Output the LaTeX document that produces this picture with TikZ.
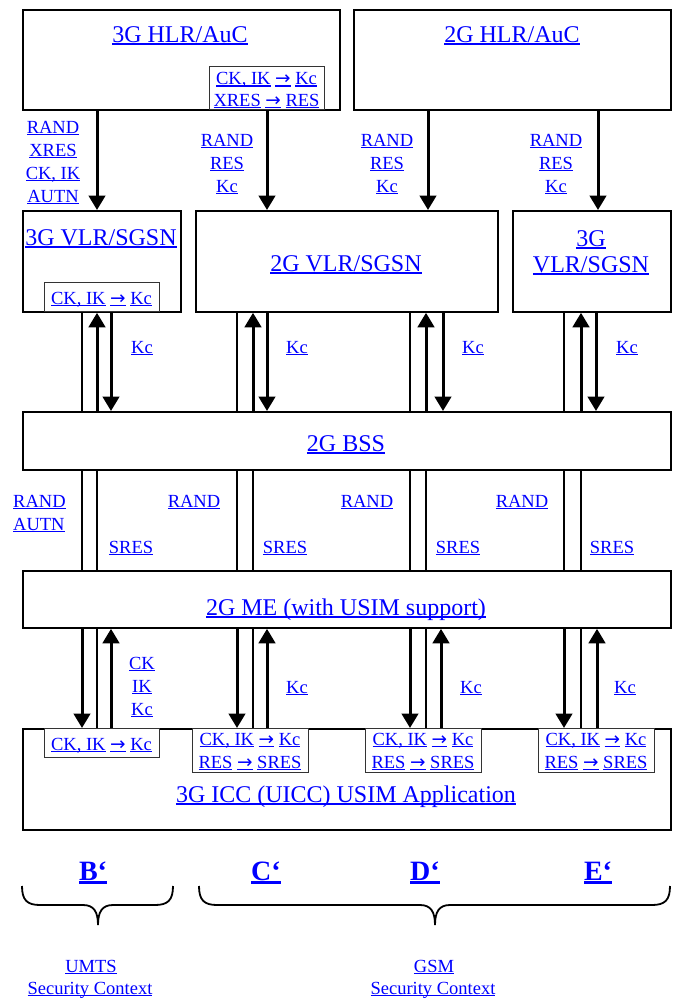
\documentclass[tikz,border=0pt]{standalone}
\usepackage{fontspec}
\setmainfont{Liberation Serif}
\newfontfamily\arrowfont{DejaVu Sans}
\usetikzlibrary{arrows.meta}
\newsavebox\lnkbox
\newcommand\lnk[1]{\begingroup\sbox\lnkbox{#1}\rlap{\rule[-0.11em]{\wd\lnkbox}{0.07em}}\usebox\lnkbox\endgroup}
\newcommand\lnkb[1]{\begingroup\sbox\lnkbox{#1}\rlap{\rule[-0.16em]{\wd\lnkbox}{0.11em}}\usebox\lnkbox\endgroup}
\newcommand\ar{\lnk{\arrowfont →}}
\tikzset{
  box/.style={draw=black, line width=1.8pt, inner sep=0pt, anchor=north west},
  ibox/.style={draw=black!80, line width=1.3pt, fill=white, inner sep=0pt, anchor=north west},
  big/.style={text=blue, font=\fontsize{24}{28}\selectfont, anchor=base, inner sep=0pt},
  sm/.style={text=blue, font=\fontsize{18.5}{23}\selectfont, anchor=base, inner sep=0pt},
  bl/.style={text=blue, font=\fontsize{28}{32}\selectfont\bfseries, anchor=base, inner sep=0pt},
  arr/.style={line width=3pt, -{Triangle[width=16.5pt,length=14.5pt]}},
  pl/.style={line width=2.5pt},
  brace/.style={line width=1.8pt}
}
\begin{document}
\begin{tikzpicture}[x=1pt,y=-1pt]
\useasboundingbox (0,0) rectangle (676,999);
% x positions
\foreach \n/\v in {a1/82,b1/97,c1/111,a2/237,b2/253,c2/267,a3/410,b3/426,c3/443,d3/441,a4/564,b4/581,c4/596,d4/597,h1/97,h2/267,h3/428,h4/598}
  \coordinate (x\n) at (\v,0);
% boxes
\node[box, minimum width=317pt, minimum height=100pt] (hlr3) at (22,9) {};
\node[box, minimum width=317pt, minimum height=100pt] (hlr2) at (353,9) {};
\node[ibox, minimum width=115pt, minimum height=43pt] (hlr3in) at (209,66) {};
\node[box, minimum width=158pt, minimum height=101pt] (vlr3a) at (22,210) {};
\node[box, minimum width=302pt, minimum height=101pt] (vlr2) at (195,210) {};
\node[box, minimum width=158pt, minimum height=101pt] (vlr3b) at (512,210) {};
\node[ibox, minimum width=115pt, minimum height=29pt] (vlrin) at (44,282) {};
\node[box, minimum width=648pt, minimum height=58pt] (bss) at (22,411) {};
\node[box, minimum width=648pt, minimum height=57pt] (me) at (22,570) {};
\node[box, minimum width=648pt, minimum height=101pt] (icc) at (22,728) {};
\node[ibox, minimum width=115pt, minimum height=29pt] (iccB) at (44,728) {};
\node[ibox, minimum width=116pt, minimum height=44pt] (iccC) at (192,728) {};
\node[ibox, minimum width=116pt, minimum height=44pt] (iccD) at (365,728) {};
\node[ibox, minimum width=116pt, minimum height=44pt] (iccE) at (538,728) {};
% HLR -> VLR arrows
\draw[arr] (hlr3.south -| xh1) -- (vlr3a.north -| xh1);
\draw[arr] (hlr3.south -| xh2) -- (vlr2.north -| xh2);
\draw[arr] (hlr2.south -| xh3) -- (vlr2.north -| xh3);
\draw[arr] (hlr2.south -| xh4) -- (vlr3b.north -| xh4);
% VLR <-> BSS
\foreach \v/\i in {vlr3a/1,vlr2/2,vlr2/3,vlr3b/4}{
  \draw[pl] (\v.south -| xa\i) -- (bss.north -| xa\i);
  \draw[arr] (bss.north -| xb\i) -- (\v.south -| xb\i);
  \draw[arr] (\v.south -| xc\i) -- (bss.north -| xc\i);
}
% BSS - ME
\foreach \i in {1,2,3,4}{
  \draw[pl] (bss.south -| xa\i) -- (me.north -| xa\i);
  \draw[pl] (bss.south -| xb\i) -- (me.north -| xb\i);
}
% ME <-> ICC
\foreach \i/\u in {1/c1,2/c2,3/d3,4/d4}{
  \draw[arr] (me.south -| xa\i) -- (icc.north -| xa\i);
  \draw[pl] (me.south -| xb\i) -- (icc.north -| xb\i);
  \draw[arr] (icc.north -| x\u) -- (me.south -| x\u);
}
% big labels
\node[big] (t1) at (180,42) {\lnk{3G HLR/AuC}};
\node[big] (t2) at (512,42) {\lnk{2G HLR/AuC}};
\node[big] (t3) at (101,245) {\lnk{3G VLR/SGSN}};
\node[big] (t4) at (346,271) {\lnk{2G VLR/SGSN}};
\node[big] (t5) at (591,246) {\lnk{3G}};
\node[big] (t6) at (591,272) {\lnk{VLR/SGSN}};
\node[big] (t7) at (346,451) {\lnk{2G BSS}};
\node[big] (t8) at (346,615) {\lnk{2G ME (with USIM support)}};
\node[big] (t9) at (346,802) {\lnk{3G ICC (UICC) USIM Application}};
% inner box texts
\node[sm] (h1) at (266.5,84.5) {\lnk{CK, IK} \ar{} \lnk{Kc}};
\node[sm] (h2) at (266.5,106) {\lnk{XRES} \ar{} \lnk{RES}};
\node[sm] (v1) at (101.5,304) {\lnk{CK, IK} \ar{} \lnk{Kc}};
\node[sm] (b1) at (101.5,750) {\lnk{CK, IK} \ar{} \lnk{Kc}};
\foreach \x [count=\i] in {250,423,596}{
  \node[sm] (ca\i) at (\x,745) {\lnk{CK, IK} \ar{} \lnk{Kc}};
  \node[sm] (cb\i) at (\x,768) {\lnk{RES} \ar{} \lnk{SRES}};
}
% flow labels
\foreach \t [count=\i] in {RAND,XRES,{CK, IK},AUTN}
  \node[sm] (la\i) at (53,110+23*\i) {\lnk{\t}};
\foreach \x [count=\j] in {227,387,556}
  \foreach \t [count=\i] in {RAND,RES,Kc}
    \node[sm] (lb\j-\i) at (\x,123+23*\i) {\lnk{\t}};
\foreach \x [count=\i] in {142,297,473,627}
  \node[sm] (kc\i) at (\x,353) {\lnk{Kc}};
\node[sm, anchor=base west] (ra1) at (13,507) {\lnk{RAND}};
\node[sm, anchor=base west] (au1) at (13,530) {\lnk{AUTN}};
\foreach \x [count=\i] in {194,367,522}
  \node[sm] (rn\i) at (\x,507) {\lnk{RAND}};
\foreach \x [count=\i] in {131,285,458,612}
  \node[sm] (sr\i) at (\x,553) {\lnk{SRES}};
\foreach \t [count=\i] in {CK,IK,Kc}
  \node[sm] (ck\i) at (142,646+23*\i) {\lnk{\t}};
\foreach \x [count=\i] in {297,471,625}
  \node[sm] (kd\i) at (\x,693) {\lnk{Kc}};
% bottom
\node[bl] (B) at (93,880) {\lnkb{B‘}};
\node[bl] (C) at (266,880) {\lnkb{C‘}};
\node[bl] (D) at (425,880) {\lnkb{D‘}};
\node[bl] (E) at (598,880) {\lnkb{E‘}};
\draw[brace] (22,886) .. controls (22,900) and (27,905) .. (40,905) -- (83,905)
  .. controls (94,905) and (98,912) .. (98,925)
  .. controls (98,912) and (102,905) .. (113,905) -- (155,905)
  .. controls (168,905) and (173,900) .. (173,886);
\draw[brace] (199,886) .. controls (199,900) and (204,905) .. (217,905) -- (420,905)
  .. controls (431,905) and (435,912) .. (435,925)
  .. controls (435,912) and (439,905) .. (450,905) -- (652,905)
  .. controls (665,905) and (670,900) .. (670,886);
\node[sm] (u1) at (91,972) {\lnk{UMTS}};
\node[sm] (u2) at (90,994) {\lnk{Security Context}};
\node[sm] (g1) at (434,972) {\lnk{GSM}};
\node[sm] (g2) at (433,994) {\lnk{Security Context}};
\end{tikzpicture}
\end{document}
